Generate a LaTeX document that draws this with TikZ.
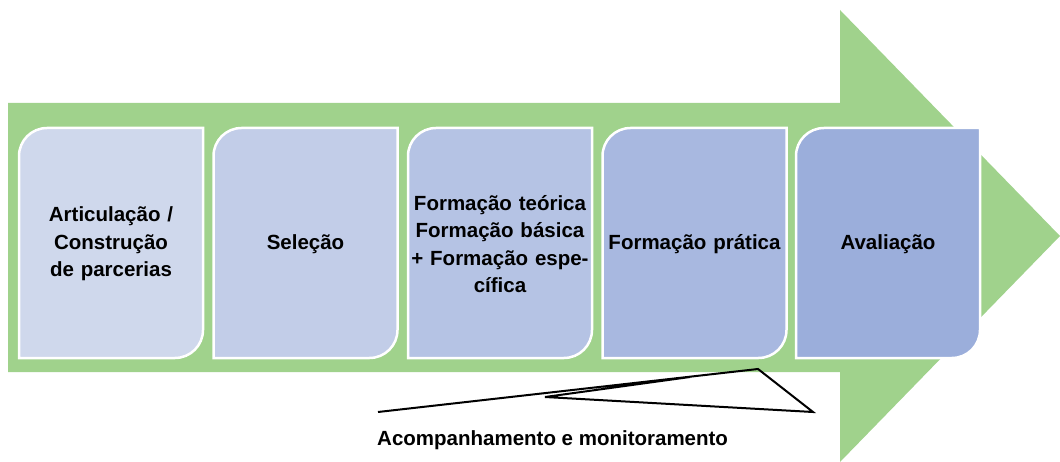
\documentclass[tikz,border=0pt]{standalone}
\usepackage{fontspec}
\setmainfont{Liberation Sans}
\definecolor{arrowgreen}{HTML}{A0D28C}
\definecolor{boxa}{HTML}{CFD8EC}
\definecolor{boxb}{HTML}{C2CDE8}
\definecolor{boxc}{HTML}{B5C3E4}
\definecolor{boxd}{HTML}{A8B8E0}
\definecolor{boxe}{HTML}{9BAEDB}
\tikzset{
  stagetext/.style={font=\bfseries\fontsize{20.5}{27.5}\selectfont, align=center, text width=184pt, inner sep=0pt},
  stagefill/.style={draw=white, line width=2.5pt},
  callout/.style={draw=black, line width=2pt, line join=miter},
  labeltext/.style={font=\bfseries\fontsize{20.5}{27.5}\selectfont, inner sep=0pt, anchor=west}
}
\newcommand\stagebox[4]{%
  \filldraw[stagefill, fill=#2] (#1,358) -- (#1,156) arc[start angle=180,end angle=270,radius=28] -- ({#1+184},128) -- ({#1+184},330) arc[start angle=0,end angle=90,radius=28] -- ({#1+156},358) -- cycle;
  \node[stagetext] (#3) at ({#1+92},244) {#4};
}
\begin{document}
\begin{tikzpicture}[x=1pt,y=-1pt]
\useasboundingbox (0,0) rectangle (1060,462);
\fill[arrowgreen] (8,103) -- (840,103) -- (840,10) -- (1060,236) -- (840,462) -- (840,372) -- (8,372) -- cycle;
\stagebox{19}{boxa}{s1}{Articulação /\\Construção\\de parcerias}
\stagebox{213.5}{boxb}{s2}{Seleção}
\stagebox{408}{boxc}{s3}{Formação teórica\\Formação básica\\+ Formação espe-\\cífica}
\stagebox{602.5}{boxd}{s4}{Formação prática}
\stagebox{796}{boxe}{s5}{Avaliação}
\coordinate (c1) at (378,412);
\coordinate (c2) at (758,369);
\coordinate (c3) at (813,412);
\coordinate (c4) at (545,397);
\coordinate (c5) at (690,377);
\draw[callout] (c1) -- (c2) -- (c3) -- (c4) -- (c5);
\node[labeltext] (lbl) at (377,440) {Acompanhamento e monitoramento};
\end{tikzpicture}
\end{document}
